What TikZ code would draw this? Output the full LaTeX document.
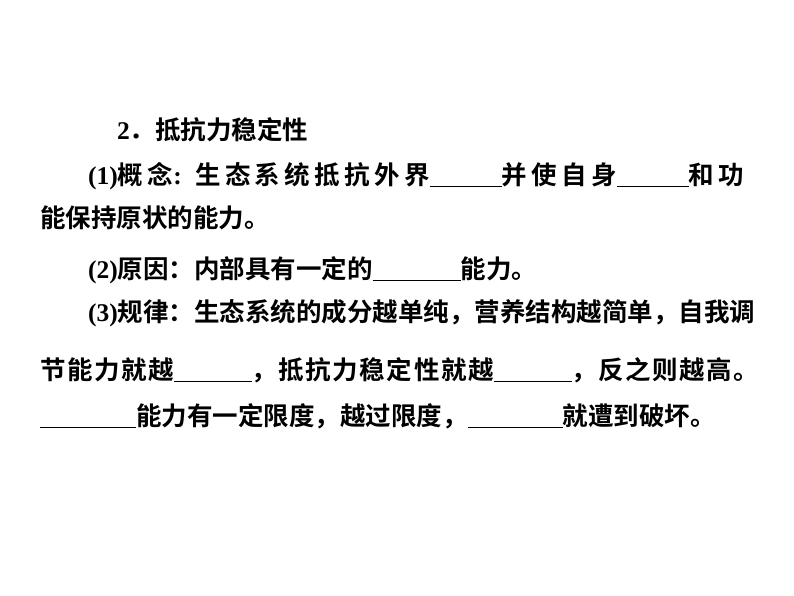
\documentclass[tikz,border=0pt]{standalone}
\usepackage{fontspec}
\setmainfont{Noto Sans CJK SC}[BoldFont={* Bold}]
\newfontfamily\lat{Liberation Serif}
\newcommand{\bk}[1]{\rule[-3pt]{#1pt}{1.2pt}}
\begin{document}
\begin{tikzpicture}[x=1pt,y=-1pt,txt/.style={anchor=west,inner sep=0pt,font=\fontsize{25.5}{25.5}\selectfont\bfseries}]
\useasboundingbox (0,0) rectangle (794,596);
\node[txt] (l1) at (117,130) {{\lat 2}．抵抗力稳定性};
\node[txt] (l2) at (88,176) {\addfontfeature{LetterSpace=17}{\lat (1)}概念{\lat :} 生态系统抵抗外界\bk{72}并使自身\bk{72}和功};
\node[txt] (l3) at (40,218) {能保持原状的能力。};
\node[txt] (l4) at (88,270) {{\lat (2)}原因：内部具有一定的\bk{88}能力。};
\node[txt] (l5) at (88,313) {{\lat (3)}规律：生态系统的成分越单纯，营养结构越简单，自我调};
\node[txt] (l6) at (40,370) {\addfontfeature{LetterSpace=6}节能力就越\bk{78}，抵抗力稳定性就越\bk{78}，反之则越高。};
\node[txt] (l7) at (40,416) {\bk{96}能力有一定限度，越过限度，\bk{95}就遭到破坏。};
\end{tikzpicture}
\end{document}
